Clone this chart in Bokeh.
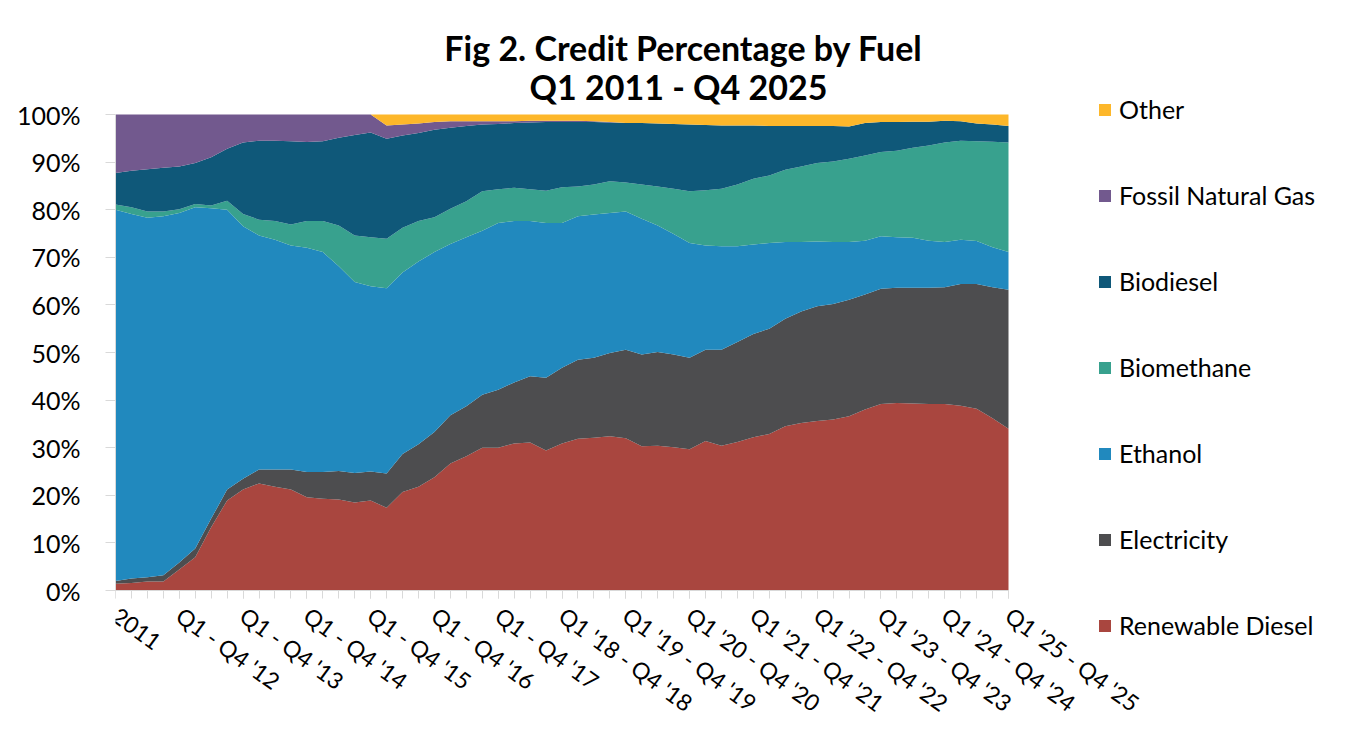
import math
from bokeh.plotting import figure
from bokeh.models import (ColumnDataSource, FixedTicker, PrintfTickFormatter, Legend,
                          LegendItem, Label, Range1d)
from bokeh.embed import file_html
from bokeh.resources import INLINE

# Category index 0 = 2011 (annual), 1..56 = Q1 2012 .. Q4 2025
tick_labels = ["2011", "Q1 - Q4 '12", "Q1 - Q4 '13", "Q1 - Q4 '14", "Q1 - Q4 '15",
               "Q1 - Q4 '16", "Q1 - Q4 '17", "Q1 '18 - Q4 '18", "Q1 '19 - Q4 '19",
               "Q1 '20 - Q4 '20", "Q1 '21 - Q4 '21", "Q1 '22 - Q4 '22",
               "Q1 '23 - Q4 '23", "Q1 '24 - Q4 '24", "Q1 '25 - Q4 '25"]

renewable_diesel = [1.4, 1.6, 1.9, 1.9, 4.4, 7.0, 13.3, 18.9, 21.2, 22.5, 21.8, 21.2, 19.6, 19.3,
                    19.1, 18.5, 18.9, 17.4, 20.7, 21.8, 23.8, 26.7, 28.2, 30.0, 30.0, 30.9, 31.1,
                    29.4, 30.9, 31.9, 32.1, 32.4, 32.0, 30.3, 30.4, 30.1, 29.7, 31.4, 30.4, 31.2,
                    32.2, 32.9, 34.5, 35.2, 35.6, 35.9, 36.6, 38.0, 39.2, 39.4, 39.3, 39.2, 39.2,
                    38.8, 38.2, 36.2, 34.0]
electricity = [0.6, 0.9, 0.9, 1.3, 1.5, 1.8, 1.8, 2.3, 2.3, 2.9, 3.6, 4.2, 5.3, 5.6, 6.0, 6.2, 6.1,
               7.2, 8.0, 8.9, 9.5, 10.1, 10.5, 11.1, 12.2, 12.8, 13.9, 15.3, 15.9, 16.6, 16.8, 17.5,
               18.6, 19.3, 19.7, 19.5, 19.2, 19.2, 20.2, 21.0, 21.7, 22.1, 22.6, 23.4, 24.1, 24.3,
               24.5, 24.2, 24.2, 24.2, 24.3, 24.4, 24.5, 25.6, 26.2, 27.5, 29.2]
ethanol = [78.0, 76.6, 75.5, 75.4, 73.4, 71.7, 65.2, 58.8, 53.0, 49.2, 48.3, 47.1, 47.1, 46.2, 43.0,
           40.1, 38.9, 38.9, 38.1, 38.4, 37.8, 36.0, 35.5, 34.5, 35.0, 33.9, 32.6, 32.5, 30.4, 30.1,
           30.1, 29.4, 29.0, 28.5, 26.6, 25.3, 24.1, 21.9, 21.7, 20.1, 18.8, 18.0, 16.1, 14.6, 13.6,
           13.0, 12.1, 11.3, 11.0, 10.6, 10.5, 9.9, 9.5, 9.3, 9.0, 8.4, 7.9]
biomethane = [1.1, 1.4, 1.3, 1.0, 0.8, 0.7, 0.6, 1.9, 2.6, 3.3, 3.9, 4.4, 5.6, 6.5, 8.6, 9.8, 10.3,
              10.4, 9.4, 8.5, 7.3, 7.4, 7.6, 8.3, 7.1, 7.0, 6.7, 6.8, 7.5, 6.3, 6.3, 6.7, 6.1, 7.2,
              8.2, 9.5, 10.9, 11.6, 12.1, 13.0, 13.8, 14.2, 15.2, 15.9, 16.5, 16.9, 17.5, 17.9, 17.7,
              18.2, 18.9, 20.0, 20.9, 20.8, 21.0, 22.2, 23.0]
biodiesel = [6.6, 7.7, 8.9, 9.2, 9.0, 8.6, 10.1, 10.9, 15.0, 16.6, 16.9, 17.5, 16.6, 16.8, 18.4,
             21.1, 22.0, 21.0, 19.4, 18.5, 18.4, 17.0, 15.8, 14.0, 13.7, 13.6, 14.0, 14.4, 13.7,
             13.5, 13.1, 12.3, 12.5, 12.9, 13.2, 13.6, 14.0, 13.7, 13.3, 12.4, 11.2, 10.4, 9.2, 8.5,
             7.8, 7.5, 6.8, 6.8, 6.3, 6.0, 5.5, 5.0, 4.6, 4.1, 3.7, 3.6, 3.5]
fossil_natural_gas = [12.3, 11.8, 11.5, 11.2, 10.9, 10.2, 9.0, 7.2, 5.9, 5.5, 5.5, 5.6, 5.8, 5.6,
                      4.9, 4.3, 3.8, 2.8, 2.3, 2.0, 1.6, 1.4, 1.0, 0.7, 0.6, 0.4, 0.4, 0.3, 0.3,
                      0.3, 0.2, 0.1, 0.0, 0.0, 0.0, 0.0, 0.0, 0.0, 0.0, 0.0, 0.0, 0.0, 0.0, 0.0,
                      0.0, 0.0, 0.0, 0.0, 0.0, 0.0, 0.0, 0.0, 0.0, 0.0, 0.0, 0.0, 0.0]
other = [0.0, 0.0, 0.0, 0.0, 0.0, 0.0, 0.0, 0.0, 0.0, 0.0, 0.0, 0.0, 0.0, 0.0, 0.0, 0.0, 0.0, 2.3,
         2.1, 1.9, 1.6, 1.4, 1.4, 1.4, 1.4, 1.4, 1.3, 1.3, 1.3, 1.3, 1.4, 1.6, 1.8, 1.8, 1.9, 2.0,
         2.1, 2.2, 2.3, 2.3, 2.3, 2.4, 2.4, 2.4, 2.4, 2.4, 2.5, 1.8, 1.6, 1.6, 1.5, 1.5, 1.3, 1.4,
         1.9, 2.1, 2.4]

series_names = ["Renewable Diesel", "Electricity", "Ethanol", "Biomethane", "Biodiesel",
                "Fossil Natural Gas", "Other"]
keys = ["rd", "el", "eth", "bm", "bd", "fng", "oth"]
colors = ["#A9463F", "#4D4D4F", "#2189BE", "#38A18E", "#0F5879", "#72598E", "#FDB72A"]

n = len(renewable_diesel)
source = ColumnDataSource(data=dict(
    x=list(range(n)), rd=renewable_diesel, el=electricity, eth=ethanol, bm=biomethane,
    bd=biodiesel, fng=fossil_natural_gas, oth=other))

FONT = "Lato"

# ---- layout geometry (pixels) ----
W, H = 1341, 733
PLOT_L, PLOT_R = 115, 1008      # where category 0 and the last category sit
PLOT_T, PLOT_B = 114, 590       # where 100% and 0% sit
px_x = (PLOT_R - PLOT_L) / (n - 1)
px_y = (PLOT_B - PLOT_T) / 100.0
x_end = (W - PLOT_L) / px_x
y_start = -(H - PLOT_B) / px_y
y_end = 100 + PLOT_T / px_y

p = figure(width=W, height=H, output_backend="svg", toolbar_location=None,
           x_range=Range1d(0, x_end), y_range=Range1d(y_start, y_end),
           min_border_left=PLOT_L, min_border_right=0, min_border_top=0,
           min_border_bottom=0)
p.outline_line_color = None
p.grid.visible = False
p.background_fill_color = "white"

renderers = p.varea_stack(stackers=keys, x="x", color=colors, source=source)

# axes
xa = p.xaxis[0]
xa.fixed_location = 0
xa.bounds = (0, n - 1)
xa.ticker = FixedTicker(ticks=list(range(0, n, 4)), minor_ticks=list(range(n)))
xa.major_label_overrides = {i * 4: lab for i, lab in enumerate(tick_labels)}
xa.major_label_orientation = -math.radians(36)
xa.major_label_text_font = FONT
xa.major_label_text_font_size = "23px"
xa.major_label_text_color = "#000000"
xa.axis_line_color = "#D9D9D9"
xa.major_tick_line_color = "#D9D9D9"
xa.minor_tick_line_color = "#D9D9D9"
xa.major_tick_in = 0
xa.major_tick_out = 8
xa.minor_tick_in = 0
xa.minor_tick_out = 8
xa.major_label_standoff = 14

ya = p.yaxis[0]
ya.bounds = (0, 100)
ya.ticker = FixedTicker(ticks=list(range(0, 101, 10)))
ya.formatter = PrintfTickFormatter(format="%d%%")
ya.major_label_text_font = FONT
ya.major_label_text_font_size = "25px"
ya.major_label_text_color = "#000000"
ya.axis_line_color = "#D9D9D9"
ya.major_tick_line_color = "#D9D9D9"
ya.major_tick_in = 0
ya.major_tick_out = 10
ya.minor_tick_line_color = None
ya.major_label_standoff = 25

# title: two centred lines (screen units from the frame's bottom-left)
for txt, cx, cy in [("Fig 2. Credit Percentage by Fuel", 683, 47), ("Q1 2011 - Q4 2025", 678, 86)]:
    p.add_layout(Label(x=cx - PLOT_L, y=H - cy, x_units="screen", y_units="screen", text=txt,
                       text_font=FONT, text_font_style="bold", text_font_size="34px",
                       text_align="center", text_baseline="middle", text_color="#000000"))

# legend, top item = Other
items = [LegendItem(label=series_names[i], renderers=[renderers[i]]) for i in range(6, -1, -1)]
legend = Legend(items=items, location=(1097 - PLOT_L, H - 640), orientation="vertical", ncols=1)
legend.label_text_font = FONT
legend.label_text_font_size = "25px"
legend.label_text_color = "#000000"
legend.glyph_width = 15
legend.glyph_height = 15
legend.label_standoff = 7
legend.spacing = 56
legend.padding = 0
legend.margin = 0
legend.border_line_color = None
legend.background_fill_alpha = 0
p.add_layout(legend)

open("out.html", "w").write(file_html(p, INLINE))
